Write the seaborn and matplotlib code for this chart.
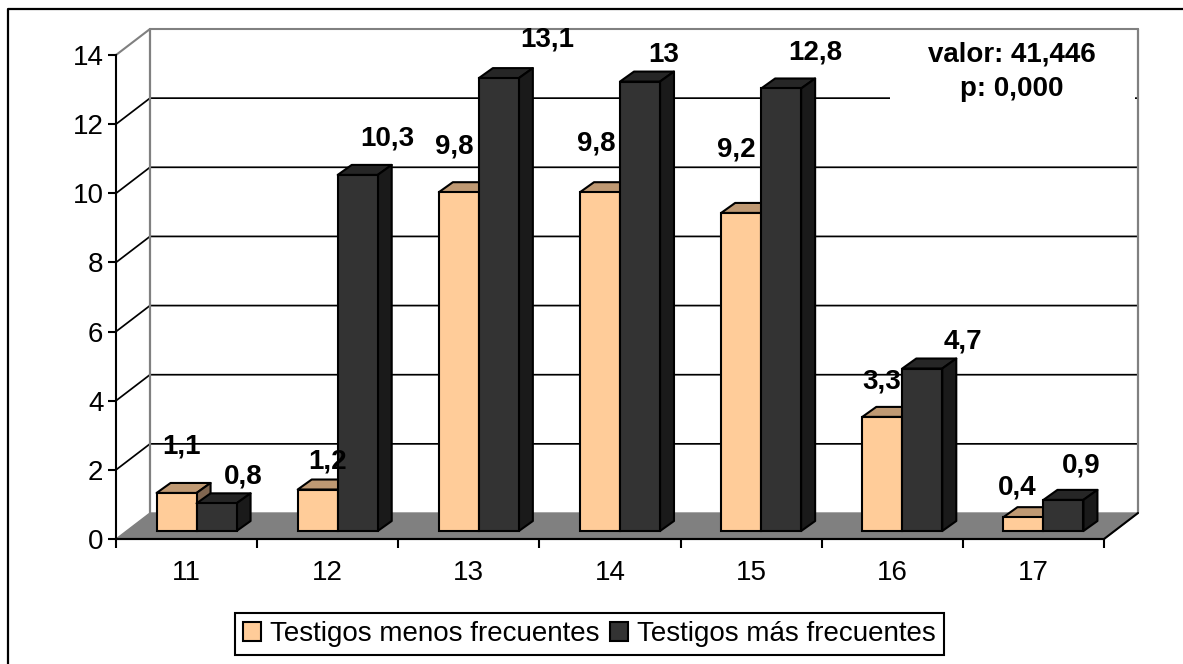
import matplotlib
matplotlib.use("Agg")
import matplotlib.pyplot as plt
from matplotlib.patches import Polygon, Rectangle
from matplotlib.lines import Line2D
import pandas as pd
import seaborn as sns

categories = ["11", "12", "13", "14", "15", "16", "17"]
menos = [1.1, 1.2, 9.8, 9.8, 9.2, 3.3, 0.4]
mas = [0.8, 10.3, 13.1, 13, 12.8, 4.7, 0.9]
menos_labels = ["1,1", "1,2", "9,8", "9,8", "9,2", "3,3", "0,4"]
mas_labels = ["0,8", "10,3", "13,1", "13", "12,8", "4,7", "0,9"]
series_names = ["Testigos menos frecuentes", "Testigos más frecuentes"]
stat_text = "valor: 41,446\np: 0,000"
y_ticks = [0, 2, 4, 6, 8, 10, 12, 14]

# pixel offsets of the hand-placed value labels from the top centre of each bar
menos_off = [(5, 46), (10, 28), (-5, 46), (-4, 49), (-5, 63), (-1, 35), (-6, 30)]
mas_off = [(27, 27), (30, 36), (48, 39), (24, 27), (34, 36), (41, 27), (18, 34)]

W, H = 1183, 664
L, R, T, B = 116, 1104, 55, 539

sns.set_theme(style="white")
plt.rcParams["font.family"] = ["Liberation Sans", "DejaVu Sans"]

fig = plt.figure(figsize=(W / 100, H / 100), dpi=100, facecolor="white")
ax = fig.add_axes([L / W, 1 - B / H, (R - L) / W, (B - T) / H], facecolor="none")

df = pd.DataFrame({
    "edad": categories * 2,
    "valor": menos + mas,
    "serie": [series_names[0]] * 7 + [series_names[1]] * 7,
})
FRONT = ["#FFCC99", "#333333"]
TOP = ["#BF9973", "#262626"]
SIDE = ["#806650", "#1A1A1A"]
sns.barplot(data=df, x="edad", y="valor", hue="serie", palette=FRONT, width=80 / 141.14,
            gap=0, saturation=1, edgecolor="black", linewidth=1.5, ax=ax, zorder=3, legend=True)
handles, labels = ax.get_legend_handles_labels()
ax.get_legend().remove()
ax.set_xlim(-0.5, 6.5)
ax.set_ylim(0, 14)
ax.set_xlabel("")
ax.set_ylabel("")

PX = (R - L) / 7
PY = (B - T) / 14
dx = lambda p: p / PX
dy = lambda p: p / PY

# back walls, floor and gridlines
WX, WY = 34, 26
x0, x1 = -0.5, 6.5
gray = "#808080"
ax.add_patch(Polygon([(x0, 0), (x1, 0), (x1 + dx(WX), dy(WY)), (x0 + dx(WX), dy(WY))],
                     closed=True, facecolor=gray, edgecolor=gray, lw=1, clip_on=False, zorder=1))
for v in y_ticks[1:]:
    c = gray if v == 14 else "black"
    ax.plot([x0, x0 + dx(WX), x1 + dx(WX)], [v, v + dy(WY), v + dy(WY)], color=c,
            lw=1.5 if v == 14 else 1.25, clip_on=False, zorder=1.2, solid_joinstyle="miter")
ax.plot([x0 + dx(WX)] * 2, [dy(WY), 14 + dy(WY)], color=gray, lw=1.6, clip_on=False, zorder=1.3)
ax.plot([x1 + dx(WX)] * 2, [dy(WY), 14 + dy(WY)], color=gray, lw=1.6, clip_on=False, zorder=1.3)
ax.plot([x0, x1, x1 + dx(WX)], [0, 0, dy(WY)], color="black", lw=1.5, clip_on=False, zorder=1.4)

# white patch behind the statistics text (interrupts the gridline at 12)
ax.add_patch(Rectangle((x0 + dx(890 - L), 14 - dy(105 - T)), dx(1135 - 890), dy(73),
                       facecolor="white", edgecolor="none", clip_on=False, zorder=1.25))

# give bars their 3-D look
OX, OY, DX, DY = 10, 8, 14, 10
for s, cont in enumerate(ax.containers):
    for bar in cont:
        bar.set_x(bar.get_x() + dx(OX))
        bar.set_y(dy(OY))
        bar.set_zorder(3.1 + s)
        a, w, b, h = bar.get_x(), bar.get_width(), bar.get_y(), bar.get_height()
        ax.add_patch(Polygon([(a, b + h), (a + dx(DX), b + h + dy(DY)),
                              (a + w + dx(DX), b + h + dy(DY)), (a + w, b + h)],
                             closed=True, facecolor=TOP[s], edgecolor="black", lw=1.5,
                             clip_on=False, zorder=3 + s, joinstyle="round"))
        ax.add_patch(Polygon([(a + w, b), (a + w + dx(DX), b + dy(DY)),
                              (a + w + dx(DX), b + h + dy(DY)), (a + w, b + h)],
                             closed=True, facecolor=SIDE[s], edgecolor="black", lw=1.5,
                             clip_on=False, zorder=3 + s, joinstyle="round"))
        bar.set_clip_on(False)

for s, (cont, texts, offs) in enumerate(zip(ax.containers, [menos_labels, mas_labels], [menos_off, mas_off])):
    for bar, t, (ox, oy) in zip(cont, texts, offs):
        ax.annotate(t, (bar.get_x() + bar.get_width() / 2, bar.get_y() + bar.get_height()),
                    xytext=(ox * 0.72, oy * 0.72), textcoords="offset points", ha="center",
                    va="center", fontsize=20, fontweight="bold", color="black",
                    annotation_clip=False, zorder=8)

fig.text(1012 / W, 1 - 72 / H, stat_text, ha="center", va="center", fontsize=20,
         fontweight="bold", color="black", linespacing=1.42, zorder=9)

# axes
for side in ["top", "right"]:
    ax.spines[side].set_visible(False)
for side in ["left", "bottom"]:
    ax.spines[side].set_visible(True)
    ax.spines[side].set_color("black")
    ax.spines[side].set_linewidth(1.5)
    ax.spines[side].set_zorder(2)
ax.set_yticks(y_ticks)
ax.set_yticklabels([str(v) for v in y_ticks])
ax.tick_params(axis="y", which="major", left=True, length=5.5, width=1.5, color="black",
               labelsize=20, pad=3.5, labelcolor="black")
ax.set_xticks([x0 + i for i in range(8)])
ax.set_xticklabels([""] * 8)
ax.set_xticks(range(7), minor=True)
ax.set_xticklabels(categories, minor=True)
ax.tick_params(axis="x", which="major", bottom=True, length=6.5, width=1.5, color="black")
ax.tick_params(axis="x", which="minor", bottom=False, length=0, labelsize=20, pad=15,
               labelcolor="black")

leg = ax.legend(handles, labels, loc="center", bbox_to_anchor=(589.5 / W, 1 - 634 / H),
                bbox_transform=fig.transFigure, ncol=2, fontsize=20, frameon=True,
                fancybox=False, framealpha=1, edgecolor="black", handlelength=0.65,
                handleheight=0.65, handletextpad=0.3, columnspacing=0.4, borderpad=0.3,
                borderaxespad=0)
leg.get_frame().set_linewidth(1.5)
leg.set_zorder(10)
for t in leg.get_texts():
    t.set_color("black")

# chart-area frame (left and top edges show in the crop)
fig.add_artist(Line2D([8 / W, 8 / W, 1], [0, 1 - 9 / H, 1 - 9 / H], color="black", lw=1.6,
                      transform=fig.transFigure))

fig.savefig("out.png", dpi=100)
